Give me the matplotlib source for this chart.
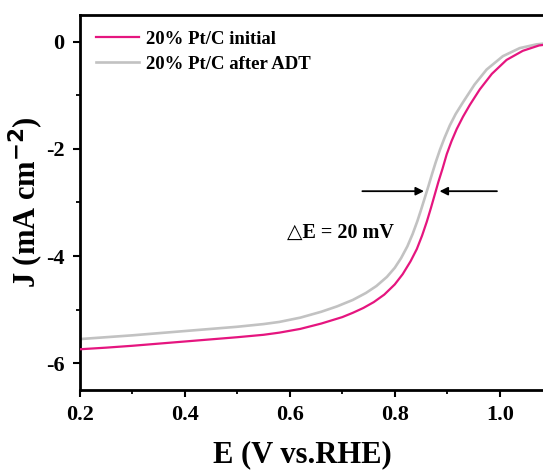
import matplotlib
matplotlib.use("Agg")
import matplotlib.pyplot as plt

plt.rcParams['font.family'] = ['Liberation Serif', 'DejaVu Serif']
plt.rcParams['font.weight'] = 'bold'
plt.rcParams['axes.unicode_minus'] = False
plt.rcParams['mathtext.default'] = 'bf'

# LSV curves (E in V vs RHE, J in mA cm-2)
e_initial = [0.20, 0.25, 0.30, 0.35, 0.40, 0.45, 0.50, 0.55, 0.58, 0.62, 0.66, 0.70,
             0.72, 0.74, 0.76, 0.78, 0.80, 0.815, 0.83, 0.842, 0.852, 0.861, 0.869,
             0.876, 0.883, 0.891, 0.899, 0.908, 0.918, 0.930, 0.943, 0.962, 0.985,
             1.013, 1.044, 1.075, 1.10]
j_initial = [-5.74, -5.71, -5.675, -5.635, -5.595, -5.555, -5.515, -5.47, -5.43,
             -5.36, -5.26, -5.14, -5.06, -4.97, -4.86, -4.72, -4.53, -4.34, -4.10,
             -3.87, -3.62, -3.36, -3.10, -2.86, -2.62, -2.37, -2.10, -1.86, -1.63,
             -1.40, -1.18, -0.89, -0.60, -0.34, -0.17, -0.07, -0.04]

e_adt = [0.20, 0.25, 0.30, 0.35, 0.40, 0.45, 0.50, 0.55, 0.58, 0.62, 0.66, 0.69,
         0.72, 0.745, 0.765, 0.785, 0.80, 0.812, 0.824, 0.834, 0.843, 0.850, 0.857,
         0.864, 0.871, 0.878, 0.886, 0.895, 0.905, 0.916, 0.930, 0.952, 0.975,
         1.006, 1.038, 1.07, 1.10]
j_adt = [-5.55, -5.515, -5.48, -5.44, -5.40, -5.36, -5.32, -5.27, -5.23, -5.15,
         -5.04, -4.94, -4.82, -4.69, -4.56, -4.39, -4.22, -4.04, -3.82, -3.59,
         -3.35, -3.14, -2.92, -2.70, -2.47, -2.25, -2.02, -1.79, -1.56, -1.35,
         -1.13, -0.80, -0.52, -0.27, -0.12, -0.05, -0.02]

labels = ["20% Pt/C initial", "20% Pt/C after ADT"]
colors = ["#E5157F", "#C2C2C2"]
arrow_j = -2.79
delta_text = "\u25b3E = 20 mV"

fig = plt.figure(figsize=(5.43, 4.73), dpi=100)
ax = fig.add_axes([0.147, 0.1755, 0.870, 0.793])

ax.plot(e_initial, j_initial, color=colors[0], lw=1.6, label=labels[0], zorder=3)
ax.plot(e_adt, j_adt, color=colors[1], lw=1.9, label=labels[1], zorder=2)

ax.set_xlim(0.2, 1.1)
ax.set_ylim(-6.5, 0.5)
ax.set_xticks([0.2, 0.4, 0.6, 0.8, 1.0])
ax.set_xticks([0.3, 0.5, 0.7, 0.9], minor=True)
ax.set_yticks([0, -2, -4, -6])
ax.set_yticks([-1, -3, -5], minor=True)
ax.set_xticklabels(["0.2", "0.4", "0.6", "0.8", "1.0"])
ax.set_yticklabels(["0", "-2", "-4", "-6"])
ax.tick_params(which='major', direction='out', length=5, width=1.5, labelsize=16, pad=6)
ax.tick_params(which='minor', direction='out', length=3, width=1.3)
for s in ax.spines.values():
    s.set_linewidth(2)

ax.set_xlabel("E (V vs.RHE)", fontsize=22, fontweight='bold')
ax.set_ylabel("J (mA cm$^{-2}$)", fontsize=22, fontweight='bold')
ax.xaxis.set_label_coords(0.472, -0.135)
ax.yaxis.set_label_coords(-0.072, 0.5)

# delta E arrows
ax.annotate("", xy=(0.861, arrow_j), xytext=(0.733, arrow_j),
            arrowprops=dict(arrowstyle='-|>', color='black', lw=1.3, mutation_scale=12))
ax.annotate("", xy=(0.880, arrow_j), xytext=(1.0, arrow_j),
            arrowprops=dict(arrowstyle='-|>', color='black', lw=1.3, mutation_scale=12))
ax.text(0.594, -3.57, delta_text, fontsize=14.5, fontweight='bold', va='center', ha='left')

leg = ax.legend(loc='upper left', frameon=False, fontsize=13.5, handlelength=2.3,
                handletextpad=0.37, labelspacing=0.4, borderaxespad=0.45,
                bbox_to_anchor=(0.0, 1.0))

fig.savefig("out.png", dpi=100)
